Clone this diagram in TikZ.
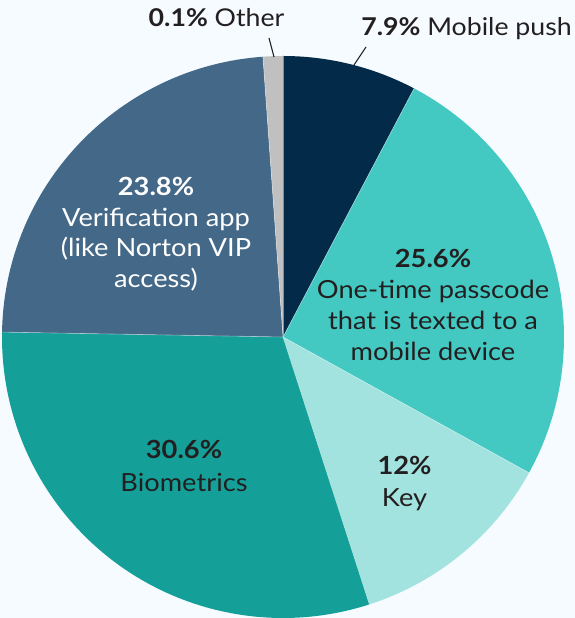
\documentclass[tikz,border=0pt]{standalone}
\usepackage{fontspec}
\setmainfont[FakeStretch=1.09]{Lato}

\definecolor{bgcol}{HTML}{F5FBFF}
\definecolor{navycol}{HTML}{032B49}
\definecolor{turqcol}{HTML}{43C9C2}
\definecolor{lightcol}{HTML}{A2E3DF}
\definecolor{tealcol}{HTML}{14A099}
\definecolor{slatecol}{HTML}{446887}
\definecolor{greycol}{HTML}{C0C0C0}
\definecolor{inkcol}{HTML}{231F20}

\tikzset{
  lbl/.style={anchor=base, inner sep=0pt, font=\fontsize{25}{31}\selectfont},
  toplbl/.style={anchor=base, inner sep=0pt, font=\fontsize{24.5}{30}\selectfont, text=inkcol},
  leader/.style={draw=inkcol, line width=1.1pt},
  slice/.style={draw=white, draw opacity=0.45, line width=0.6pt}
}

% one wedge: colour, start angle, end angle
\newcommand{\wedgepart}[3]{%
  \fill[#1] (ctr) -- ++(#2:281) arc[start angle=#2, end angle=#3, radius=281] -- cycle;
  \draw[slice] (ctr) -- ++(#2:281);
}

\begin{document}
\begin{tikzpicture}[x=1pt,y=1pt]
  \fill[bgcol] (0,0) rectangle (575,618);
  \useasboundingbox (0,0) rectangle (575,618);

  \coordinate (ctr) at (283,281);

  % wedges, clockwise from the top
  \wedgepart{navycol}{90}{62.2}
  \wedgepart{turqcol}{62.2}{-28.9}
  \wedgepart{lightcol}{-28.9}{-72.1}
  \wedgepart{tealcol}{-72.1}{-181}
  \wedgepart{slatecol}{179}{94.1}
  \wedgepart{greycol}{94.1}{90}

  % outside labels with leader lines
  \node[toplbl] (otherlbl) at (216.5,591) {\textbf{0.1\%} Other};
  \node[toplbl] (pushlbl) at (466.5,582) {\textbf{7.9\%} Mobile push};
  \coordinate (otherA) at (269,580);
  \coordinate (otherB) at (274,561);
  \coordinate (pushA) at (366,571);
  \coordinate (pushB) at (354,553);
  \draw[leader] (otherA) -- (otherB);
  \draw[leader] (pushA) -- (pushB);

  % verification app
  \node[lbl, text=white] (ver1) at (156,422) {\bfseries 23.8\%};
  \node[lbl, text=white] (ver2) at (156,391) {Verification app};
  \node[lbl, text=white] (ver3) at (156,361) {(like Norton VIP};
  \node[lbl, text=white] (ver4) at (156,330) {access)};

  % one-time passcode
  \node[lbl, text=inkcol] (otp1) at (433,350) {\bfseries 25.6\%};
  \node[lbl, text=inkcol] (otp2) at (433,319) {One-time passcode};
  \node[lbl, text=inkcol] (otp3) at (433,288) {that is texted to a};
  \node[lbl, text=inkcol] (otp4) at (433,257) {mobile device};

  % biometrics
  \node[lbl, text=inkcol] (bio1) at (184,159) {\bfseries 30.6\%};
  \node[lbl, text=inkcol] (bio2) at (184,126) {Biometrics};

  % key
  \node[lbl, text=inkcol] (key1) at (404.5,143) {\bfseries 12\%};
  \node[lbl, text=inkcol] (key2) at (404.5,111) {Key};
\end{tikzpicture}
\end{document}
